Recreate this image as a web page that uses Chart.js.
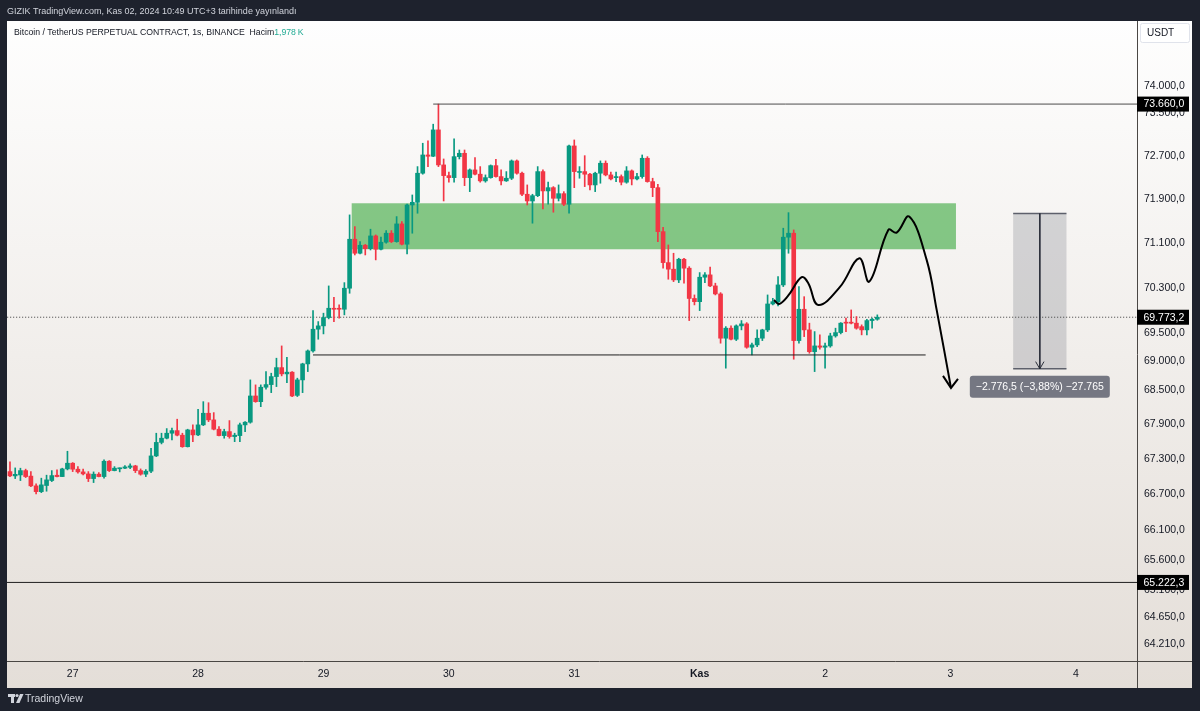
<!DOCTYPE html>
<html>
<head>
<meta charset="utf-8">
<script src="https://cdn.jsdelivr.net/npm/chart.js@4.4.1/dist/chart.umd.min.js"></script>
<style>
  html, body { margin: 0; padding: 0; background: #1e222d; }
  canvas { display: block; }
</style>
</head>
<body>
<canvas id="chart" width="1200" height="711"></canvas>
<script>
// BTCUSDT.P hourly candles, 26 Oct 12:00 -> 2 Nov 10:00 (UTC+3)
// x = hours from 27 Oct 00:00
const firstHour = -12;

const opens = [
  67087, 67014, 67030, 67104, 67010, 66844, 66746, 66850, 66935, 67025,
  67002, 67133, 67230, 67128, 67082, 67048, 66968, 67043, 67002, 67264,
  67104, 67135, 67145, 67160, 67184, 67104, 67043, 67094, 67355, 67587,
  67659, 67745, 67790, 67711, 67513, 67802, 67716, 67889, 68090, 67975,
  67814, 67704, 67773, 67687, 67704, 67889, 67935, 68390, 68291, 68542,
  68588, 68728, 68885, 68775, 68805, 68400, 68670, 68950, 69178, 69561,
  69620, 69767, 69933, 69930, 69915, 70290, 71171, 70918, 71062, 71001,
  71231, 70990, 71117, 71280, 71128, 71449, 71081, 71794, 71843, 72376,
  72713, 72689, 73178, 72529, 72332, 72295, 72682, 72744, 72295, 72437,
  72358, 72235, 72295, 72516, 72314, 72235, 72284, 72603, 72376, 71990,
  71867, 71964, 72406, 72051, 72111, 71916, 72001, 71807, 72880, 72390,
  72406, 72358, 72161, 72376, 72560, 72345, 72295, 72314, 72211, 72419,
  72271, 72314, 72652, 72222, 72111, 71309, 70749, 70631, 70439, 70810,
  70649, 70107, 70050, 70487, 70529, 70331, 70188, 69402, 69579, 69384,
  69620, 69655, 69243, 69284, 69402, 69549, 70009, 70050, 70349, 71208,
  71280, 69360, 69915, 69549, 69165, 69266, 69243, 69266, 69443, 69501,
  69678, 69678, 69668, 69607, 69549, 69714, 69738
];
const highs = [
  67252, 67150, 67145, 67129, 67087, 66878, 66975, 67026, 67104, 67116,
  67145, 67435, 67241, 67172, 67129, 67087, 67082, 67070, 67287, 67275,
  67172, 67150, 67189, 67218, 67195, 67133, 67121, 67486, 67745, 67745,
  67825, 67832, 67987, 67745, 67814, 67889, 68159, 68291, 68273, 68101,
  67859, 67814, 67963, 67745, 67918, 67945, 68670, 68583, 68583, 68815,
  68787, 69050, 69266, 69067, 68815, 68700, 68962, 69195, 69891, 69696,
  69845, 70331, 70128, 69992, 70390, 71613, 71400, 71128, 71078, 71353,
  71249, 71208, 71328, 71328, 71582, 71491, 71812, 71977, 72498, 72930,
  72973, 73284, 73660, 72639, 72395, 73010, 72805, 72805, 72455, 72663,
  72498, 72345, 72529, 72634, 72437, 72406, 72621, 72621, 72395, 72161,
  71990, 72498, 72437, 72211, 72130, 72161, 72038, 72898, 72991, 72498,
  72700, 72376, 72395, 72603, 72603, 72395, 72395, 72345, 72498, 72437,
  72376, 72713, 72682, 72284, 72174, 71389, 71068, 70918, 70828, 70828,
  70677, 70170, 70570, 70570, 70667, 70380, 70211, 69607, 69620, 69638,
  69714, 69678, 69314, 69549, 69561, 70170, 70110, 70498, 71371, 71654,
  71340, 70319, 70139, 69668, 69519, 69461, 69314, 69490, 69579, 69678,
  69756, 69903, 69784, 69638, 69738, 69756, 69815
];
const lows = [
  67002, 66968, 66934, 66985, 66832, 66707, 66729, 66753, 66917, 66995,
  67000, 67116, 67087, 67060, 67031, 66917, 66900, 66997, 66975, 67087,
  67099, 67082, 67139, 67139, 67070, 67026, 67002, 67070, 67343, 67561,
  67647, 67630, 67699, 67503, 67508, 67600, 67704, 67876, 67945, 67802,
  67699, 67659, 67659, 67600, 67600, 67773, 67918, 68280, 68204, 68507,
  68448, 68553, 68740, 68623, 68378, 68380, 68448, 68815, 69155, 69384,
  69478, 69744, 69696, 69756, 69815, 70200, 70887, 70905, 70887, 70977,
  70798, 70977, 71099, 71110, 71117, 71068, 70905, 71280, 71643, 72358,
  72498, 72682, 72498, 71867, 72211, 72211, 72639, 72148, 72038, 72345,
  72211, 72211, 72284, 72303, 72161, 72225, 72259, 72358, 71964, 71794,
  71462, 71946, 71722, 71807, 71662, 71867, 71781, 71643, 72111, 72284,
  72130, 72069, 72038, 72192, 72327, 72253, 72222, 72161, 72192, 72161,
  72253, 72284, 72211, 71946, 71128, 70649, 70451, 70408, 70390, 70380,
  69714, 69992, 69891, 70390, 70319, 70170, 69314, 68875, 69372, 69360,
  69549, 69225, 69108, 69254, 69360, 69519, 69992, 69974, 70319, 70918,
  69032, 69314, 69430, 69137, 68815, 69207, 68875, 69243, 69420, 69478,
  69519, 69655, 69561, 69461, 69461, 69579, 69720
];
const closes = [
  67014, 67040, 67104, 67002, 66844, 66746, 66861, 66946, 67019, 67002,
  67133, 67230, 67128, 67082, 67048, 66968, 67043, 67002, 67264, 67104,
  67145, 67145, 67167, 67184, 67104, 67043, 67094, 67355, 67587, 67659,
  67745, 67790, 67711, 67513, 67802, 67716, 67889, 68090, 67975, 67814,
  67704, 67773, 67687, 67711, 67889, 67935, 68390, 68291, 68542, 68588,
  68728, 68885, 68775, 68805, 68390, 68670, 68950, 69178, 69561, 69620,
  69767, 69933, 69915, 69915, 70290, 71171, 70918, 71062, 71001, 71231,
  70990, 71117, 71280, 71128, 71449, 71081, 71794, 71843, 72376, 72713,
  72689, 73178, 72529, 72332, 72295, 72682, 72744, 72295, 72437, 72358,
  72235, 72295, 72516, 72314, 72235, 72284, 72603, 72376, 71990, 71867,
  71964, 72406, 72051, 72111, 71916, 72001, 71807, 72880, 72406, 72406,
  72358, 72161, 72376, 72560, 72345, 72271, 72314, 72211, 72419, 72271,
  72314, 72652, 72222, 72111, 71309, 70749, 70631, 70439, 70810, 70649,
  70107, 70050, 70487, 70529, 70331, 70188, 69402, 69579, 69384, 69620,
  69655, 69243, 69284, 69402, 69549, 70009, 70050, 70349, 71208, 71280,
  69360, 69915, 69549, 69165, 69266, 69243, 69266, 69443, 69501, 69668,
  69668, 69668, 69579, 69549, 69714, 69738, 69773.2
];

const dayTicks = [0, 24, 48, 72, 96, 120, 144, 168, 192];
const dayLabels = ['27', '28', '29', '30', '31', 'Kas', '2', '3', '4'];
const priceTicks = [74000, 73500, 72700, 71900, 71100, 70300, 69500, 69000, 68500,
  67900, 67300, 66700, 66100, 65600, 65100, 64650, 64210];

// drawings
const topLevel = 73660;
const lastPrice = 69773.2;
const bottomLevel = 65222.3;
const baseLevel = 69107;
const zoneTop = 71825, zoneBottom = 70990;
const zoneFrom = 53.4, zoneTo = 169.05;
const pathHours = [134.22, 135.18, 136.9, 139.52, 140.79, 142.7, 146.85, 150.55, 152.46, 156.1, 157.7, 160.11, 163.44, 165.36, 168.1];
const pathPrices = [70080, 70009, 70152, 70487, 70380, 69992, 70313, 70828, 70408, 71340, 71291, 71582, 70798, 69903, 68530];
const arrowHours = [166.57, 168.1, 169.44];
const arrowPrices = [68740, 68530, 68687];
const measureFrom = 71640, measureTo = 68863.5;
const measureStart = 180.0, measureEnd = 190.2;
const measureText = '\u22122.776,5 (\u22123,88%) \u221227.765';

const UP = '#089981', DOWN = '#f23645';
const FONT = '"Liberation Sans", Arial, sans-serif';

const hours = opens.map((_, i) => firstHour + i);
const colors = opens.map((o, i) => closes[i] >= o ? UP : DOWN);

function fmt(v) {
  const [i, f] = v.toFixed(1).split('.');
  return i.replace(/\B(?=(\d{3})+(?!\d))/g, '.') + ',' + f;
}

function hline(y, x0, x1, color, dash, order) {
  return {
    type: 'line',
    data: [{ x: x0, y: y }, { x: x1, y: y }],
    borderColor: color,
    borderWidth: 1,
    borderDash: dash || [],
    pointRadius: 0,
    order: order
  };
}

const overlay = {
  id: 'overlay',
  beforeDraw(chart) {
    const ctx = chart.ctx;
    ctx.save();
    ctx.fillStyle = '#1e222d';
    ctx.fillRect(0, 0, chart.width, chart.height);
    const g = ctx.createLinearGradient(0, 21, 0, 688);
    g.addColorStop(0, '#fefefe');
    g.addColorStop(1, '#e4ded8');
    ctx.fillStyle = g;
    ctx.fillRect(7, 21, 1185, 667);
    ctx.restore();
  },
  beforeDatasetsDraw(chart) {
    const { ctx, scales: { x, y } } = chart;
    ctx.save();
    // green zone
    ctx.fillStyle = 'rgba(76,175,80,0.68)';
    const zx0 = x.getPixelForValue(zoneFrom), zx1 = x.getPixelForValue(zoneTo);
    const zy0 = y.getPixelForValue(zoneTop), zy1 = y.getPixelForValue(zoneBottom);
    ctx.fillRect(zx0, zy0, zx1 - zx0, zy1 - zy0);
    // measure box
    const mx0 = x.getPixelForValue(measureStart), mx1 = x.getPixelForValue(measureEnd);
    const my0 = y.getPixelForValue(measureFrom), my1 = y.getPixelForValue(measureTo);
    ctx.fillStyle = 'rgba(120,123,134,0.28)';
    ctx.fillRect(mx0, my0, mx1 - mx0, my1 - my0);
    ctx.strokeStyle = '#5d606b';
    ctx.lineWidth = 1.5;
    ctx.beginPath();
    ctx.moveTo(mx0, my0); ctx.lineTo(mx1, my0);
    ctx.moveTo(mx0, my1); ctx.lineTo(mx1, my1);
    ctx.stroke();
    ctx.restore();
  },
  afterDatasetsDraw(chart) {
    const { ctx, scales: { x, y } } = chart;
    const cx = (x.getPixelForValue(measureStart) + x.getPixelForValue(measureEnd)) / 2;
    const top = y.getPixelForValue(measureTo) + 7;
    ctx.save();
    ctx.fillStyle = 'rgba(106,109,120,0.92)';
    ctx.beginPath();
    ctx.roundRect(cx - 70, top, 140, 22, 3);
    ctx.fill();
    ctx.fillStyle = '#ffffff';
    ctx.font = '10.5px ' + FONT;
    ctx.textAlign = 'center';
    ctx.textBaseline = 'middle';
    ctx.fillText(measureText, cx, top + 11.5);
    ctx.restore();
  },
  afterDraw(chart) {
    const { ctx, scales: { y } } = chart;
    ctx.save();
    // separators
    ctx.strokeStyle = '#4a4744';
    ctx.lineWidth = 1;
    ctx.beginPath();
    ctx.moveTo(1137.5, 21); ctx.lineTo(1137.5, 688);
    ctx.moveTo(7, 661.5); ctx.lineTo(1192, 661.5);
    ctx.stroke();

    // price labels on the axis
    ctx.font = '10.5px ' + FONT;
    ctx.textBaseline = 'middle';
    ctx.textAlign = 'left';
    [topLevel, lastPrice, bottomLevel].forEach(v => {
      const py = y.getPixelForValue(v);
      ctx.fillStyle = '#000000';
      ctx.fillRect(1137, py - 7.5, 52, 15);
      ctx.fillStyle = '#ffffff';
      ctx.fillText(fmt(v), 1143.5, py + 0.5);
    });

    // currency box
    ctx.fillStyle = '#ffffff';
    ctx.strokeStyle = '#e0e3eb';
    ctx.beginPath();
    ctx.roundRect(1140.5, 23.5, 49, 19, 2);
    ctx.fill();
    ctx.stroke();
    ctx.fillStyle = '#131722';
    ctx.font = '10px ' + FONT;
    ctx.fillText('USDT', 1147, 33.5);

    // top strip
    ctx.fillStyle = '#d1d4dc';
    ctx.font = '9px ' + FONT;
    ctx.fillText('GIZIK TradingView.com, Kas 02, 2024 10:49 UTC+3 tarihinde yay\u0131nland\u0131', 7, 11.5);

    // symbol legend
    const legend = 'Bitcoin / TetherUS PERPETUAL CONTRACT, 1s, BINANCE  Hacim';
    ctx.font = '8.7px ' + FONT;
    ctx.fillStyle = '#131722';
    ctx.fillText(legend, 14, 32.5);
    const w = ctx.measureText(legend).width;
    ctx.fillStyle = '#22ab94';
    ctx.fillText('1,978\u2009K', 14 + w, 32.5);

    // TradingView logo
    ctx.fillStyle = '#d1d4dc';
    ctx.fillRect(8, 694, 7, 3);
    ctx.fillRect(11, 694, 3, 9);
    ctx.beginPath();
    ctx.arc(17, 695.5, 1.6, 0, Math.PI * 2);
    ctx.fill();
    ctx.beginPath();
    ctx.moveTo(20, 694); ctx.lineTo(23.5, 694); ctx.lineTo(19.5, 703); ctx.lineTo(16, 703);
    ctx.closePath();
    ctx.fill();
    ctx.font = '10.5px ' + FONT;
    ctx.fillText('TradingView', 25, 699);
    ctx.restore();
  }
};

new Chart(document.getElementById('chart'), {
  type: 'bar',
  data: {
    datasets: [
      hline(lastPrice, -20, 220, '#3b3b3b', [1, 2], 10),
      {
        label: 'wicks',
        data: hours.map((h, i) => ({ x: h, y: [lows[i], highs[i]] })),
        backgroundColor: colors,
        barThickness: 1,
        grouped: false,
        order: 4
      },
      {
        label: 'bodies',
        data: hours.map((h, i) => ({ x: h, y: [opens[i], closes[i]] })),
        backgroundColor: colors,
        barThickness: 4,
        minBarLength: 1,
        grouped: false,
        order: 3
      },
      hline(topLevel, 69, 220, '#4c4c4c', null, 2),
      hline(bottomLevel, -20, 220, '#1f1f1f', null, 2),
      hline(baseLevel, 46.0, 163.25, '#1f1f1f', null, 2),
      {
        type: 'line',
        data: pathHours.map((h, i) => ({ x: h, y: pathPrices[i] })),
        borderColor: '#000000',
        borderWidth: 2,
        tension: 0.4,
        pointRadius: 0,
        order: 1
      },
      {
        type: 'line',
        data: arrowHours.map((h, i) => ({ x: h, y: arrowPrices[i] })),
        borderColor: '#000000',
        borderWidth: 2,
        pointRadius: 0,
        order: 1
      },
      {
        type: 'line',
        data: [
          { x: (measureStart + measureEnd) / 2, y: measureFrom },
          { x: (measureStart + measureEnd) / 2, y: measureTo }
        ],
        borderColor: '#2a2e39',
        borderWidth: 1,
        pointRadius: 0,
        order: 1
      },
      {
        type: 'line',
        data: [
          { x: (measureStart + measureEnd) / 2 - 0.8, y: 68990 },
          { x: (measureStart + measureEnd) / 2, y: measureTo },
          { x: (measureStart + measureEnd) / 2 + 0.8, y: 68990 }
        ],
        borderColor: '#2a2e39',
        borderWidth: 1,
        pointRadius: 0,
        order: 1
      }
    ]
  },
  options: {
    responsive: false,
    animation: false,
    devicePixelRatio: 1,
    layout: { padding: { left: 7, top: 21, right: 8, bottom: 23 } },
    plugins: {
      legend: { display: false },
      tooltip: { enabled: false }
    },
    scales: {
      x: {
        type: 'linear',
        min: -12.57,
        max: 203.7,
        offset: false,
        bounds: 'data',
        grid: { display: false, drawTicks: false },
        border: { display: false },
        afterBuildTicks: s => { s.ticks = dayTicks.map(v => ({ value: v })); },
        afterFit: s => { s.height = 27; },
        ticks: {
          autoSkip: false,
          maxRotation: 0,
          padding: 7,
          color: '#131722',
          font: c => ({ family: FONT, size: 10.5, weight: c.tick && c.tick.value === 120 ? 'bold' : 'normal' }),
          callback: v => dayLabels[dayTicks.indexOf(v)]
        }
      },
      y: {
        type: 'logarithmic',
        position: 'right',
        min: 63932,
        max: 75233,
        bounds: 'data',
        grid: { display: false, drawTicks: false },
        border: { display: false },
        afterBuildTicks: s => { s.ticks = priceTicks.map(v => ({ value: v })); },
        afterFit: s => { s.width = 55; },
        ticks: {
          autoSkip: false,
          padding: 7,
          color: '#131722',
          font: { family: FONT, size: 10.5 },
          callback: v => fmt(v)
        }
      }
    }
  },
  plugins: [overlay]
});
</script>
</body>
</html>
